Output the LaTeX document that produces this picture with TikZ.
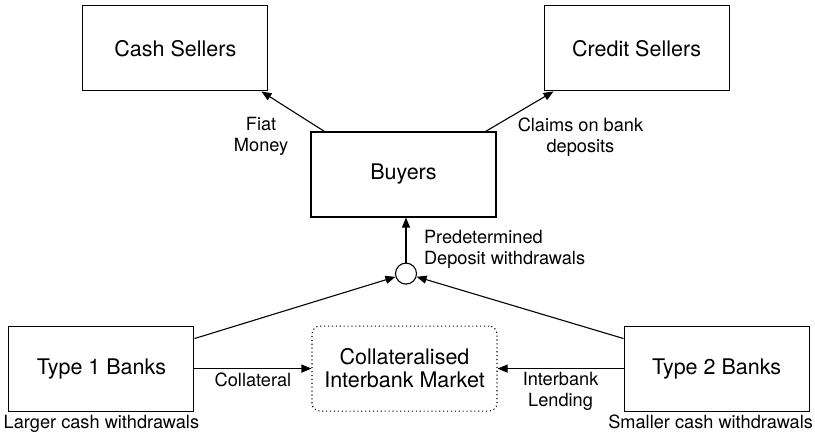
\documentclass[tikz,border=0pt]{standalone}
\usepackage{fontspec}
\setmainfont{TeX Gyre Heros}
\usetikzlibrary{arrows.meta, positioning, quotes}

\begin{document}
\begin{tikzpicture}[
node distance = 40pt and 42pt,
box/.style = {draw, line width=1.1pt, minimum width=185pt, minimum height=85pt,
              font=\fontsize{21.5pt}{23pt}\selectfont, align=center},
lbl/.style = {font=\fontsize{18.2pt}{21pt}\selectfont},
arr/.style = {draw, line width=1.1pt, -{Triangle[length=10pt,width=8pt]}},
every edge quotes/.style = {lbl, auto},
auto=right,
                        ]
\useasboundingbox (0,0) rectangle (815pt,-433pt);
\node (buyers) [box] at (403.5pt,-174.5pt)            {Buyers};
\node (cash)   [box, above left=40pt and 42pt of buyers]  {Cash Sellers};
\node (credit) [box, above right=40pt and 47pt of buyers] {Credit Sellers};
\node (dep)    [circle, draw, line width=1.1pt, minimum size=21pt, inner sep=0pt,
                below=45pt of buyers, xshift=2.5pt] {};
\node (market) [box, dash pattern=on 1.1pt off 2.8pt, rounded corners=8pt,
                below=108pt of buyers, xshift=1pt] {Collateralised\\Interbank Market};
\node (type1)  [box, left=117pt of market,
                label={[lbl, label distance=0pt]below:Larger cash withdrawals}] {Type 1 Banks};
\node (type2)  [box, right=126pt of market,
                label={[lbl, label distance=0pt, xshift=-6pt]below:Smaller cash withdrawals}] {Type 2 Banks};
% labels next to the upper arrows
\node (fiat)   [lbl, align=center, inner sep=0pt,
                below left=-14pt and 22pt of buyers.north west]  {Fiat\\Money};
\node (claims) [lbl, align=center, inner sep=0pt,
                below right=-14pt and 21pt of buyers.north east] {Claims on bank\\deposits};
\node (wd)     [lbl, align=left, inner sep=0pt,
                above right=-3pt and 10pt of dep.north east] {Predetermined\\Deposit withdrawals};

\draw[arr] (dep) -- (dep |- buyers.south);
\draw[arr] ([xshift=14pt]buyers.north west) -- ([xshift=-7pt]cash.south east);
\draw[arr] ([xshift=-11pt]buyers.north east) -- ([xshift=10pt]credit.south west);
\draw[arr] ([yshift=-13pt]type1.north east) -- (dep);
\draw[arr] ([yshift=-13pt]type2.north west) -- (dep);
\draw   (type1) edge [arr, "Collateral"] (market)
        (type2) edge [arr, auto=left, "Interbank\\Lending" align=center] (market);
\end{tikzpicture}
\end{document}
